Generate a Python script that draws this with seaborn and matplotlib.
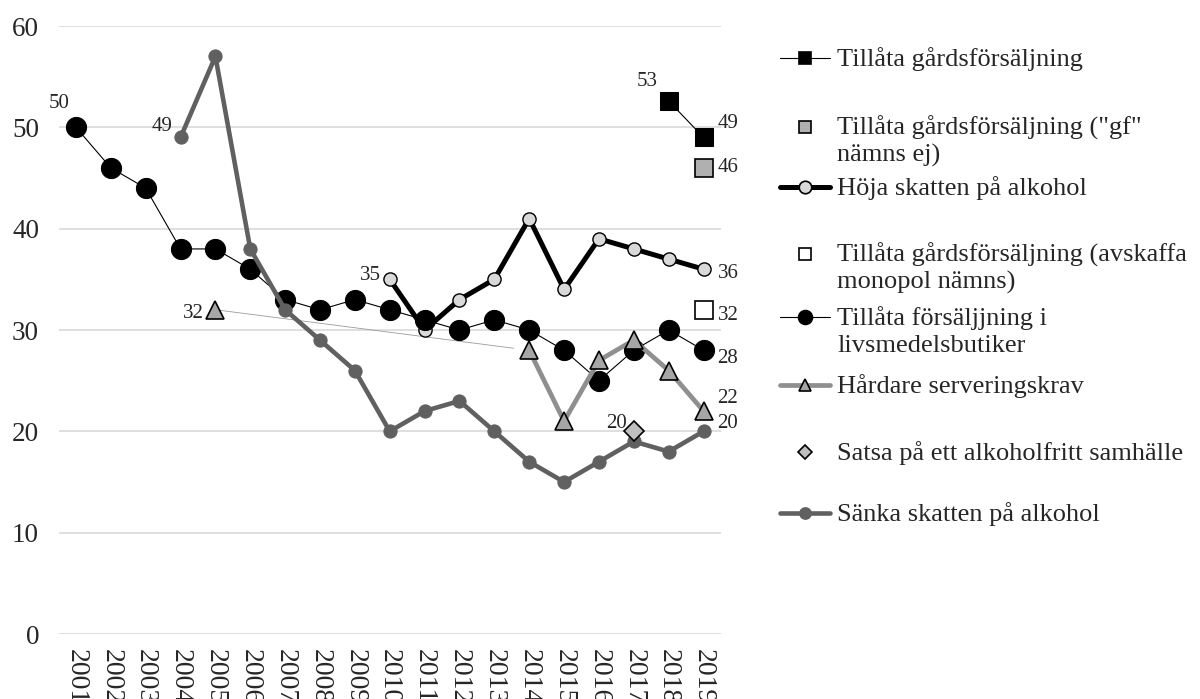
import matplotlib
matplotlib.use("Agg")
import matplotlib.pyplot as plt
from matplotlib.lines import Line2D
import seaborn as sns
import pandas as pd

# ---------------- data ----------------
years = list(range(2001, 2020))

gard_years = [2018, 2019]
gard_vals = [52.6, 49]

gard_gf_years = [2019]
gard_gf_vals = [46]

hoja_years = list(range(2010, 2020))
hoja_vals = [35, 30, 33, 35, 41, 34, 39, 38, 37, 36]

gard_mon_years = [2019]
gard_mon_vals = [32]

livs_years = list(range(2001, 2020))
livs_vals = [50, 46, 44, 38, 38, 36, 33, 32, 33, 32, 31, 30, 31, 30, 28, 25, 28, 30, 28]

hard_first_year = [2005]
hard_first_val = [32]
hard_years = list(range(2014, 2020))
hard_vals = [28, 21, 27, 29, 26, 22]

satsa_years = [2017]
satsa_vals = [20]

sanka_years = list(range(2004, 2020))
sanka_vals = [49, 57, 38, 32, 29, 26, 20, 22, 23, 20, 17, 15, 17, 19, 18, 20]

legend_labels = [
    "Tillåta gårdsförsäljning",
    "Tillåta gårdsförsäljning (\"gf\"\nnämns ej)",
    "Höja skatten på alkohol",
    "Tillåta gårdsförsäljning (avskaffa\nmonopol nämns)",
    "Tillåta försäljjning i\nlivsmedelsbutiker",
    "Hårdare serveringskrav",
    "Satsa på ett alkoholfritt samhälle",
    "Sänka skatten på alkohol",
]

# ---------------- style ----------------
sns.set_style("white")
plt.rcParams["font.family"] = ["Liberation Serif", "DejaVu Serif"]

W, H = 1200, 699
fig = plt.figure(figsize=(W / 100, H / 100), dpi=100)
ax = fig.add_axes([58.5 / W, 1 - 634 / H, (721 - 58.5) / W, (634 - 26) / H])

DARK = "#606060"
LIGHTLINE = "#8f8f8f"
TRI = "#a6a6a6"
HOJA_FILL = "#d9d9d9"
GSQ = "#b0b0b0"

# Höja skatten
sns.lineplot(x=hoja_years, y=hoja_vals, ax=ax, color="black", lw=3.6,
             marker="o", markersize=9.5, markerfacecolor=HOJA_FILL,
             markeredgecolor="black", markeredgewidth=1.0, zorder=3)
# Livsmedelsbutiker
sns.lineplot(x=livs_years, y=livs_vals, ax=ax, color="black", lw=0.8,
             marker="o", markersize=14.5, markerfacecolor="black",
             markeredgecolor="black", zorder=4)
# Hårdare serveringskrav: thin connector + thick line
sns.lineplot(x=[hard_first_year[0], hard_years[0] - 0.45],
             y=[hard_first_val[0], hard_first_val[0] + (hard_vals[0] - hard_first_val[0]) * (8.55 / 9)],
             ax=ax, color="#9a9a9a", lw=0.6, zorder=2)
sns.lineplot(x=hard_years, y=hard_vals, ax=ax, color=LIGHTLINE, lw=3.4,
             marker="^", markersize=12.5, markerfacecolor=TRI,
             markeredgecolor="black", markeredgewidth=1.2, zorder=5)
sns.lineplot(x=hard_first_year, y=hard_first_val, ax=ax, color=LIGHTLINE, lw=0,
             marker="^", markersize=12.5, markerfacecolor=TRI,
             markeredgecolor="black", markeredgewidth=1.2, zorder=5)
# Sänka skatten
sns.lineplot(x=sanka_years, y=sanka_vals, ax=ax, color=DARK, lw=3.3,
             marker="o", markersize=9.5, markerfacecolor=DARK,
             markeredgecolor=DARK, zorder=6)
# Gårdsförsäljning
sns.lineplot(x=gard_years, y=gard_vals, ax=ax, color="black", lw=0.8,
             marker="s", markersize=13, markerfacecolor="black",
             markeredgecolor="black", zorder=7)
sns.lineplot(x=gard_gf_years, y=gard_gf_vals, ax=ax, lw=0,
             marker="s", markersize=13, markerfacecolor=GSQ,
             markeredgecolor="black", markeredgewidth=1.2, zorder=7)
sns.lineplot(x=gard_mon_years, y=gard_mon_vals, ax=ax, lw=0,
             marker="s", markersize=13, markerfacecolor="white",
             markeredgecolor="black", markeredgewidth=1.2, zorder=7)
# Satsa
sns.lineplot(x=satsa_years, y=satsa_vals, ax=ax, lw=0,
             marker="D", markersize=10, markerfacecolor="#bfbfbf",
             markeredgecolor="black", markeredgewidth=1.2, zorder=8)

# ---------------- axes ----------------
ax.set_xlim(2000.5, 2019.5)
ax.set_ylim(0, 60)
ax.set_yticks(range(0, 61, 10))
ax.set_xticks(years)
ax.set_xticklabels([str(y) for y in years], rotation=270, fontsize=20)
ax.tick_params(axis="y", labelsize=19.5, length=0, pad=14)
ax.tick_params(axis="x", length=0, pad=11)
ax.grid(axis="y", color="#d9d9d9", lw=1.2)
ax.grid(axis="x", visible=False)
ax.set_axisbelow(True)
for s in ax.spines.values():
    s.set_visible(False)
ax.set_xlabel("")
ax.set_ylabel("")

# ---------------- data labels ----------------
def lab(txt, x, y, dx, dy, ha):
    ax.annotate(txt, (x, y), xytext=(dx, dy), textcoords="offset points",
                ha=ha, va="center", fontsize=15, zorder=10)

lab("50", livs_years[0], livs_vals[0], -12, 17, "center")
lab("49", sanka_years[0], sanka_vals[0], -6, 8, "right")
lab("32", hard_first_year[0], hard_first_val[0], -8, -3, "right")
lab("35", hoja_years[0], hoja_vals[0], -6, 3, "right")
lab("53", gard_years[0], gard_vals[0], -8, 14, "right")
lab("49", gard_years[1], gard_vals[1], 10, 10, "left")
lab("46", gard_gf_years[0], gard_gf_vals[0], 10, 0, "left")
lab("36", hoja_years[-1], hoja_vals[-1], 10, -3, "left")
lab("32", gard_mon_years[0], gard_mon_vals[0], 10, -4, "left")
lab("28", livs_years[-1], livs_vals[-1], 10, -6, "left")
lab("22", hard_years[-1], hard_vals[-1], 10, 9, "left")
lab("20", sanka_years[-1], sanka_vals[-1], 10, 6, "left")
lab("20", satsa_years[0], satsa_vals[0], -5, 6, "right")

# ---------------- legend (drawn manually, Excel-like) ----------------
ys = [58, 127, 187, 254, 317, 385, 452, 513]
styles = [
    dict(color="black", lw=0.8, marker="s", ms=9, mfc="black", mec="black", line=True),
    dict(color="black", lw=0, marker="s", ms=9, mfc=GSQ, mec="black", line=False),
    dict(color="black", lw=3.6, marker="o", ms=9, mfc=HOJA_FILL, mec="black", line=True),
    dict(color="black", lw=0, marker="s", ms=9, mfc="white", mec="black", line=False),
    dict(color="black", lw=0.8, marker="o", ms=10, mfc="black", mec="black", line=True),
    dict(color=LIGHTLINE, lw=3.4, marker="^", ms=9, mfc=TRI, mec="black", line=True),
    dict(color="black", lw=0, marker="D", ms=7, mfc="#bfbfbf", mec="black", line=False),
    dict(color=DARK, lw=3.3, marker="o", ms=8, mfc=DARK, mec=DARK, line=True),
]
def fx(p):
    return p / W
def fy(p):
    return 1 - p / H

for yy, st, text in zip(ys, styles, legend_labels):
    if st["line"]:
        fig.add_artist(Line2D([fx(780), fx(830)], [fy(yy), fy(yy)], color=st["color"],
                              lw=st["lw"], transform=fig.transFigure))
    fig.add_artist(Line2D([fx(805)], [fy(yy)], marker=st["marker"], ms=st["ms"],
                          mfc=st["mfc"], mec=st["mec"], mew=1.2, lw=0,
                          transform=fig.transFigure))
    for i, line in enumerate(text.split("\n")):
        fig.text(fx(837), fy(yy + 8 + 27 * i), line, ha="left", va="baseline",
                 fontsize=19)

fig.savefig("out.png", dpi=100)
